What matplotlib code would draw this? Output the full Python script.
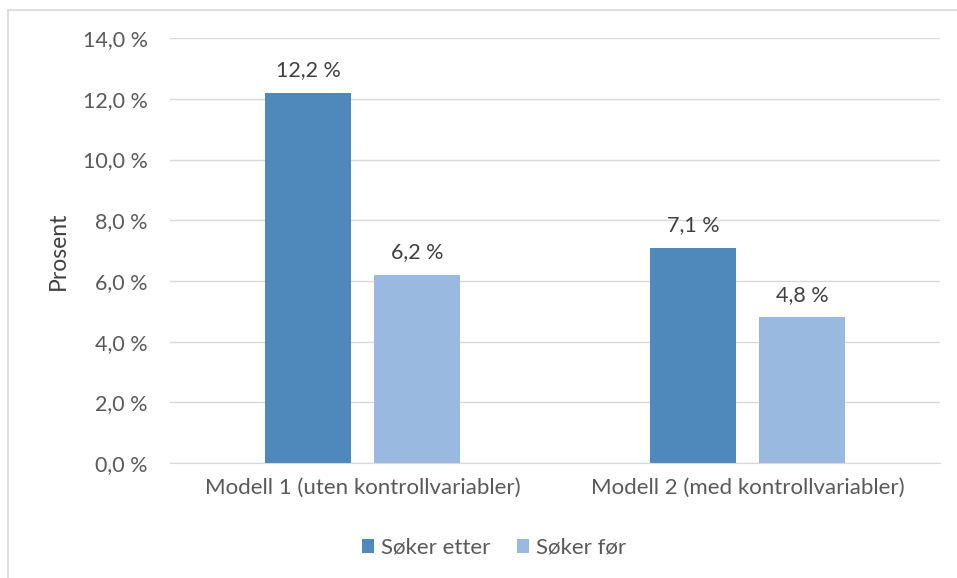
import numpy as np
import matplotlib.pyplot as plt
from matplotlib.lines import Line2D

categories = ['Modell 1 (uten kontrollvariabler)', 'Modell 2 (med kontrollvariabler)']
soker_etter = [12.2, 7.1]
soker_for = [6.2, 4.8]
series_names = ['Søker etter', 'Søker før']
colors = ['#4f88bb', '#99b9e0']
yticks = [0, 2, 4, 6, 8, 10, 12, 14]

plt.rcParams['font.family'] = ['Lato', 'DejaVu Sans']
txt = '#595959'

fig = plt.figure(figsize=(9.57, 5.78), dpi=100)
ax = fig.add_axes([0.1776, 0.199, 0.8047, 0.735])

x = np.arange(len(categories))
w = 0.223
off = 0.1416
b1 = ax.bar(x - off, soker_etter, w, color=colors[0], label=series_names[0], zorder=2)
b2 = ax.bar(x + off, soker_for, w, color=colors[1], label=series_names[1], zorder=2)

for bars, vals in [(b1, soker_etter), (b2, soker_for)]:
    for rect, v in zip(bars, vals):
        ax.annotate(f'{v:.1f} %'.replace('.', ','), (rect.get_x() + rect.get_width() / 2, v),
                    xytext=(0, 9), textcoords='offset points', ha='center', va='bottom',
                    fontsize=15.5, color='#404040')

ax.set_xlim(-0.5, 1.5)
ax.set_ylim(0, 14)
ax.set_yticks(yticks)
ax.set_yticklabels([f'{t:.1f} %'.replace('.', ',') for t in yticks], fontsize=15.5, color=txt)
ax.set_xticks(x)
ax.set_xticklabels(categories, fontsize=16, color=txt)
ax.tick_params(length=0)
ax.tick_params(axis='y', pad=16)
ax.tick_params(axis='x', pad=11)
ax.grid(axis='y', color='#d9d9d9', linewidth=1, zorder=0)
for s in ['top', 'right', 'left']:
    ax.spines[s].set_visible(False)
ax.spines['bottom'].set_color('#d9d9d9')
ax.set_ylabel('Prosent', fontsize=16.5, color='#404040', labelpad=10)

fig.legend(loc='center', bbox_to_anchor=(0.516, 0.052), ncol=2, frameon=False,
           fontsize=16, labelcolor=txt, handlelength=0.55, handleheight=0.55,
           columnspacing=1.2, handletextpad=0.3)

# outer chart border (top and left visible)
fig.add_artist(Line2D([8 / 957, 1], [1 - 10 / 578] * 2, color='#d9d9d9', lw=1.2, transform=fig.transFigure))
fig.add_artist(Line2D([8 / 957] * 2, [0, 1 - 10 / 578], color='#d9d9d9', lw=1.2, transform=fig.transFigure))

fig.savefig('out.png', dpi=100)
